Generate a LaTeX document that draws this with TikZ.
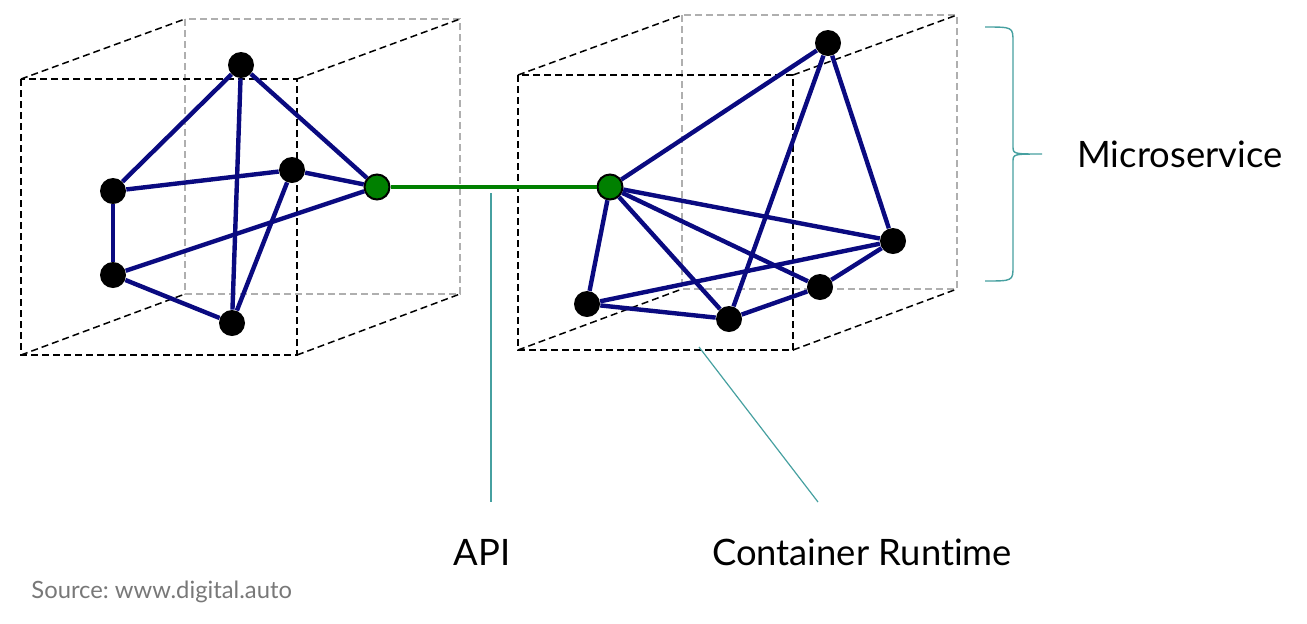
\documentclass[tikz,border=0pt]{standalone}
\usepackage{fontspec}
\setmainfont{Lato}[Ligatures=NoCommon]
\definecolor{msnavy}{RGB}{10,10,128}
\definecolor{msgreen}{RGB}{0,128,0}
\definecolor{msteal}{RGB}{70,160,160}
\definecolor{msgray}{RGB}{175,175,175}
\definecolor{srcgray}{RGB}{120,120,120}
\usetikzlibrary{positioning}

\begin{document}
\frenchspacing
\begin{tikzpicture}[x=0.5pt,y=-0.5pt,
  front/.style={black,line width=0.75pt,dash pattern=on 3.5pt off 2pt},
  back/.style={msgray,line width=0.75pt,dash pattern=on 3.5pt off 2pt},
  dot/.style={circle,fill=black,inner sep=0pt,minimum size=13pt},
  api/.style={circle,fill=msgreen,draw=black,line width=1pt,inner sep=0pt,minimum size=12.5pt},
  link/.style={msnavy,line width=2.2pt},
  pointer/.style={msteal,line width=0.6pt},
  lbl/.style={font=\fontsize{18.2}{20}\selectfont,anchor=base,inner sep=0pt}]
  \useasboundingbox (0,0) rectangle (1307,623);
  % Left container: back face, then depth edges and front face
  \draw[back] (185,19) rectangle (460,294);
  \draw[front] (21,79) -- (185,19) (297,79) -- (460,19)
    (297,355) -- (460,294) (21,355) -- (185,294);
  \draw[front] (21,79) rectangle (297,355);
  % Right container
  \draw[back] (682,15) rectangle (957,289);
  \draw[front] (518,75) -- (682,15) (793,75) -- (957,15)
    (793,350) -- (957,289) (518,350) -- (682,289);
  \draw[front] (518,75) rectangle (793,350);
  % Left microservice
  \node[dot] (l1) at (241,65) {};
  \node[dot] (l2) at (292,170) {};
  \node[dot] (l3) at (113,191) {};
  \node[dot] (l4) at (113,275) {};
  \node[dot] (l5) at (232,323) {};
  \node[api] (lapi) at (377,187) {};
  \foreach \a/\b in {l1/l3,l1/l5,l1/lapi,l3/l2,l3/l4,l4/lapi,l4/l5,l5/l2,l2/lapi}
    \draw[link] (\a) -- (\b);
  % Right microservice
  \node[api] (rapi) at (610,187) {};
  \node[dot] (r1) at (828,43) {};
  \node[dot] (r2) at (893,241) {};
  \node[dot] (r3) at (820,287) {};
  \node[dot] (r4) at (729,319) {};
  \node[dot] (r5) at (587,304) {};
  \foreach \a/\b in {rapi/r1,rapi/r2,rapi/r3,rapi/r4,rapi/r5,r1/r2,r1/r4,r2/r5,r2/r3,r3/r4,r4/r5}
    \draw[link] (\a) -- (\b);
  % API link
  \draw[msgreen,line width=2pt] (lapi) -- (rapi);
  % Labels
  \node[lbl] (apilbl) at (482,565) {API};
  \node[lbl] (crlbl) at (862,565) {Container Runtime};
  \node[lbl,anchor=base west] (mslbl) at (1077,167) {Microservice};
  \node[font=\fontsize{11.9}{14}\selectfont,text=srcgray,anchor=base west,inner sep=0pt] (src) at (31,598) {Source: www.digital.auto};
  \coordinate (apitip) at (491,193);
  \coordinate (crtip) at (699,347);
  \draw[pointer] (apitip) -- (491,502);
  \draw[pointer] (crtip) -- (818,502);
  % Brace
  \draw[pointer,line width=0.7pt] (985,27) .. controls (1013,27) .. (1013,42) -- (1013,146)
    .. controls (1013,154) .. (1042,154) .. controls (1013,154) .. (1013,162) -- (1013,266)
    .. controls (1013,281) .. (985,281);
\end{tikzpicture}
\end{document}
